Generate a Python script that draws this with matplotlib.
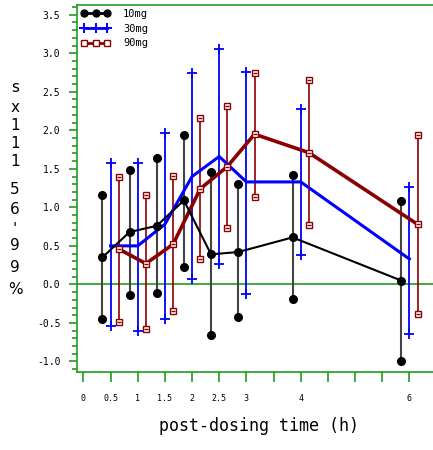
import numpy as np
import matplotlib
matplotlib.use("Agg")
import matplotlib.pyplot as plt
from matplotlib.lines import Line2D

# ── Data ─────────────────────────────────────────────────────────────────────
times = np.array([0.5, 1.0, 1.5, 2.0, 2.5, 3.0, 4.0, 6.0])
doses = ["10mg", "30mg", "90mg"]
offsets = [-0.15, 0.0, 0.15]

mean_10 = [0.35, 0.68, 0.76, 1.09, 0.39, 0.42, 0.61, 0.05]
upper_10 = [1.16, 1.49, 1.64, 1.94, 1.46, 1.30, 1.42, 1.08]
lower_10 = [-0.45, -0.14, -0.11, 0.23, -0.66, -0.42, -0.19, -1.00]

mean_30 = [0.50, 0.50, 0.78, 1.40, 1.66, 1.33, 1.33, 0.33]
upper_30 = [1.58, 1.58, 1.97, 2.74, 3.06, 2.76, 2.28, 1.26]
lower_30 = [-0.54, -0.61, -0.45, 0.07, 0.26, -0.12, 0.38, -0.64]

mean_90 = [0.46, 0.27, 0.52, 1.24, 1.53, 1.95, 1.71, 0.78]
upper_90 = [1.40, 1.16, 1.41, 2.16, 2.32, 2.74, 2.65, 1.94]
lower_90 = [-0.49, -0.58, -0.34, 0.33, 0.73, 1.14, 0.77, -0.38]

xtick_vals = np.arange(0, 6.01, 0.5)
xtick_labels = ["0", "0.5", "1", "1.5", "2", "2.5", "3", "", "4", "", "", "", "6"]
ytick_vals = np.arange(-1.0, 3.51, 0.5)
ylabel_chars = ["s", "x", "1", "1", "1", "5", "6", "'", "9", "9", "%"]

# ── Style ────────────────────────────────────────────────────────────────────
GREEN = "#229922"
RED = "#8b0000"
MONO = "DejaVu Sans Mono"
plt.rcParams.update({"font.family": MONO})

fig = plt.figure(figsize=(4.33, 4.5), dpi=100)
# right edge runs off the figure, as in the reference
ax = fig.add_axes([0.178, 0.173, 0.84, 0.816])

# zero line
ax.axhline(0, color=GREEN, lw=1.2, zorder=1)

# 10mg: grey bars, filled circles
x10 = times + offsets[0]
ax.vlines(x10, lower_10, upper_10, color="#444444", lw=1.5, zorder=2)
ax.plot(x10, upper_10, "o", color="black", ms=5.5, zorder=5)
ax.plot(x10, lower_10, "o", color="black", ms=5.5, zorder=5)
ax.plot(x10, mean_10, "o-", color="black", lw=1.5, ms=5.5, zorder=5)

# 30mg: blue bars, plus caps
x30 = times + offsets[1]
ax.vlines(x30, lower_30, upper_30, color="blue", lw=1.3, zorder=2)
ax.plot(x30, upper_30, "+", color="blue", ms=7, mew=1.3, zorder=4)
ax.plot(x30, lower_30, "+", color="blue", ms=7, mew=1.3, zorder=4)
ax.plot(x30, mean_30, "-", color="blue", lw=2.2, zorder=4)

# 90mg: dark red bars, open squares with inner bar
x90 = times + offsets[2]
ax.vlines(x90, lower_90, upper_90, color=RED, lw=1.2, zorder=2)
ax.plot(x90, mean_90, "-", color=RED, lw=2.6, zorder=3)
for yy in (upper_90, lower_90, mean_90):
    ax.plot(x90, yy, "s", mfc="white", mec=RED, mew=1.0, ms=5, zorder=6)
    ax.plot(x90, yy, "_", color=RED, mew=1.0, ms=3.5, zorder=7)

# axes
x_per_px = (6.435 + 0.116) / (0.822 * 433)
ax.set_xlim(-0.116, -0.116 + x_per_px * 0.84 * 433)
ax.set_ylim(-1.139, 3.627)
for side in ("left", "bottom", "top"):
    ax.spines[side].set_color(GREEN)
    ax.spines[side].set_linewidth(1.2)
ax.spines["right"].set_visible(False)

ax.set_xticks(xtick_vals)
ax.set_xticklabels(xtick_labels, fontsize=6)
ax.tick_params(axis="x", direction="out", length=7, width=1.2, color=GREEN, pad=9)

ax.set_yticks(ytick_vals)
ax.set_yticklabels([f"{v:.1f}" for v in ytick_vals], fontsize=7)
ax.set_yticks(np.arange(-1.1, 3.61, 0.1), minor=True)
ax.tick_params(axis="y", which="major", direction="out", length=6, width=1.2, color=GREEN, pad=6)
ax.tick_params(axis="y", which="minor", direction="out", length=3.5, width=1.2, color=GREEN)

ax.set_xlabel("post-dosing time (h)", fontsize=12, labelpad=10)

# stacked y label
ypos = [88, 107, 125, 143, 161, 190, 210, 230, 246, 268, 290]
for ch, yp in zip(ylabel_chars, ypos):
    fig.text(15 / 433, 1 - yp / 450, ch, fontsize=11, family="DejaVu Sans",
             ha="center", va="center")

# legend
handles = [
    Line2D([], [], color="black", lw=2.0, marker="o", ms=5),
    Line2D([], [], color="blue", lw=2.0, marker="+", ms=6.5, mew=1.4),
    Line2D([], [], color=RED, lw=2.0, marker="s", ms=4.5, mfc="white", mec=RED),
]
ax.legend(handles, doses, loc="upper left", frameon=False, fontsize=7.5,
          numpoints=3, handlelength=2.8, handletextpad=1.2, labelspacing=0.45,
          borderaxespad=0.2, borderpad=0.2)

fig.savefig("out.png", dpi=100)
